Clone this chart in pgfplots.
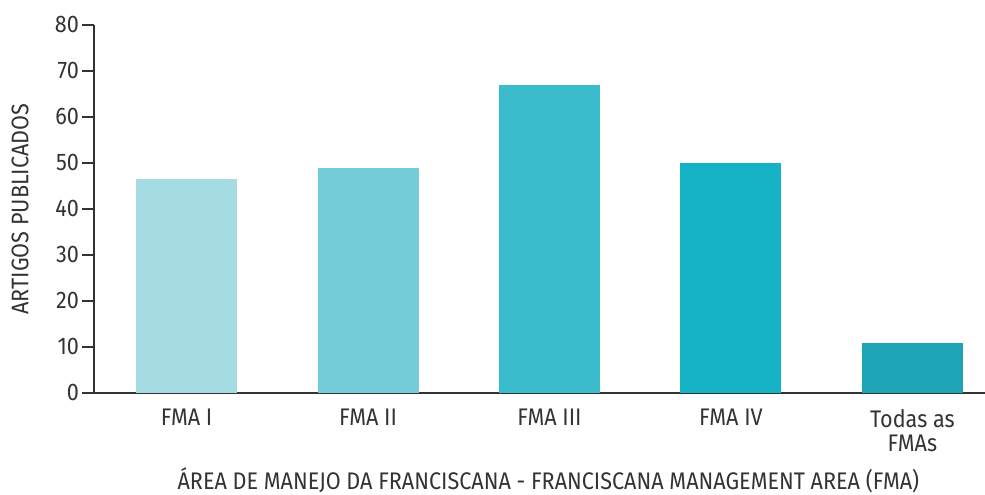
\documentclass[border=0pt]{standalone}
\usepackage{pgfplots}
\pgfplotsset{compat=1.18}
\usepackage{fontspec}
\setmainfont{Fira Sans}[FakeStretch=0.9]
\definecolor{c1}{HTML}{A5DCE4}
\definecolor{c2}{HTML}{74CCD8}
\definecolor{c3}{HTML}{3BBCCC}
\definecolor{c4}{HTML}{14B2C4}
\definecolor{c5}{HTML}{1EA5B5}
\definecolor{txt}{HTML}{333333}
\begin{document}
\begin{tikzpicture}
\begin{axis}[name=ax, scale only axis, width=445.5pt, height=184pt,
  xmin=-0.51, xmax=4.4, ymin=0, ymax=80,
  ytick={0,10,...,80},
  xtick={0,1,2,3,4},
  xticklabels={FMA I, FMA II, FMA III, FMA IV, {Todas as\\FMAs}},
  axis lines*=left,
  axis line style={txt, line width=0.9pt},
  every tick/.style={txt, line width=0.9pt},
  tick align=outside,
  major tick length=6pt,
  x tick style={draw=none},
  /pgf/number format/assume math mode=true,
  font=\fontsize{12}{12}\selectfont,
  tick label style={txt, font=\fontsize{12}{12}\selectfont},
  xticklabel style={align=center, anchor=north, yshift=1.3pt},
  yticklabel style={anchor=east, xshift=2pt},
  xlabel={ÁREA DE MANEJO DA FRANCISCANA - FRANCISCANA MANAGEMENT AREA (FMA)},
  xlabel style={txt, anchor=center, inner sep=0pt, at={(axis description cs:0.51,-0.238)}},
  ylabel={ARTIGOS PUBLICADOS},
  ylabel style={txt, anchor=center, at={(axis description cs:-0.083,0.5)}},
  clip=false,
]
\addplot[ybar, bar width=50.5pt, fill=c1, draw=none] coordinates {(0,46.6)};
\addplot[ybar, bar width=50.5pt, fill=c2, draw=none] coordinates {(1,49)};
\addplot[ybar, bar width=50.5pt, fill=c3, draw=none] coordinates {(2,67)};
\addplot[ybar, bar width=50.5pt, fill=c4, draw=none] coordinates {(3,50)};
\addplot[ybar, bar width=50.5pt, fill=c5, draw=none] coordinates {(4,10.8)};
\end{axis}
\pgfresetboundingbox
\path[use as bounding box] ([xshift=-47pt,yshift=-51pt]ax.south west) rectangle ([yshift=12.5pt]ax.north east);
\end{tikzpicture}
\end{document}
